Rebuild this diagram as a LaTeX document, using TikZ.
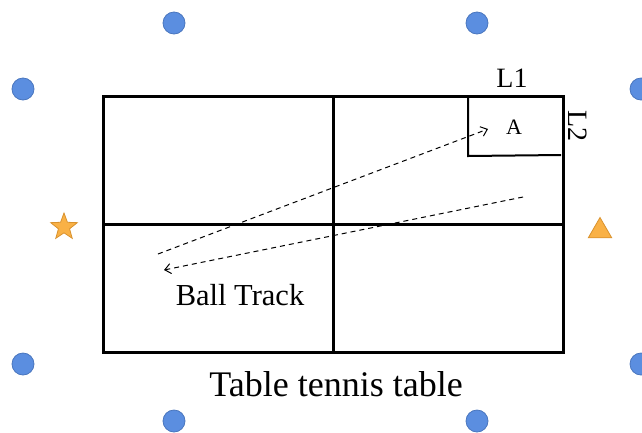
\documentclass[tikz,border=0pt]{standalone}
\usepackage{fontspec}
\setmainfont{Liberation Serif}
\usetikzlibrary{shapes.geometric,arrows.meta}
\definecolor{dotblue}{HTML}{5B8EE0}
\definecolor{dotedge}{HTML}{4A76BE}
\definecolor{orangefill}{HTML}{F9B146}
\definecolor{orangeedge}{HTML}{D9922E}
\tikzset{
  dot/.style={circle,fill=dotblue,draw=dotedge,line width=0.8pt,minimum size=22pt,inner sep=0pt},
  tableline/.style={line width=3pt},
  track/.style={dashed,line width=1pt,dash pattern=on 5pt off 4pt,-{Straight Barb[length=6pt,width=10pt]}},
  lbl/.style={inner sep=0pt,font=\fontsize{28}{30}\selectfont}
}
\begin{document}
\begin{tikzpicture}[x=1pt,y=-1pt]
\useasboundingbox (0,0) rectangle (642,432);
% dots
\node[dot] (d1) at (174,23) {};
\node[dot] (d2) at (477,23) {};
\node[dot] (d3) at (23,89) {};
\node[dot] (d4) at (641,89) {};
\node[dot] (d5) at (23,364) {};
\node[dot] (d6) at (641,364) {};
\node[dot] (d7) at (174,421) {};
\node[dot] (d8) at (477,421) {};
% star & triangle
\node[star,star points=5,star point ratio=2.4,fill=orangefill,draw=orangeedge,line width=0.8pt,minimum size=28pt,inner sep=0pt] (st) at (64,227) {};
\node[regular polygon,regular polygon sides=3,fill=orangefill,draw=orangeedge,line width=0.8pt,minimum size=27pt,inner sep=0pt] (tr) at (600,231) {};
% table
\draw[tableline] (103,96) rectangle (563,352);
\draw[tableline] (333,96) -- (333,352);
\draw[tableline] (103,224) -- (563,224);
% box A
\draw[line width=2pt] (468,96) -- (468,156) -- (561,155);
\node[lbl,font=\fontsize{22}{24}\selectfont] (A) at (514,127) {A};
\node[lbl] (L1) at (512,78) {L1};
\node[lbl,rotate=-90] (L2) at (578,126) {L2};
% tracks
\coordinate (s1) at (158,254);
\coordinate (e1) at (488,129);
\coordinate (s2) at (523,197);
\coordinate (e2) at (164,270);
\draw[track] (s1) -- (e1);
\draw[track] (s2) -- (e2);
% labels
\node[lbl,font=\fontsize{30.5}{32}\selectfont] (bt) at (240,295) {Ball Track};
\node[lbl,font=\fontsize{36}{38}\selectfont] (tt) at (336,384) {Table tennis table};
\end{tikzpicture}
\end{document}
